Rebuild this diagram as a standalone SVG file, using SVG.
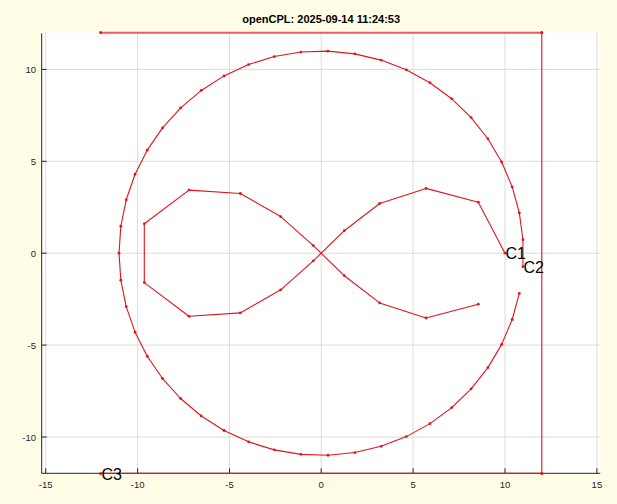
<svg xmlns="http://www.w3.org/2000/svg" width="617" height="504" viewBox="0 0 617 504">
<style>
.grid{stroke:#dcdcdc;stroke-width:1;fill:none}
.axis{stroke:#262626;stroke-width:1;fill:none}
.tl{font-family:"Liberation Sans",Arial,sans-serif;font-size:9.5px;fill:#262626}
.ttl{font-family:"Liberation Sans",Arial,sans-serif;font-size:11px;font-weight:bold;fill:#000}
.lab{font-family:"Liberation Sans",Arial,sans-serif;font-size:16px;fill:#000}
.cut{stroke:#e0141c;stroke-width:1.1;fill:none;stroke-linejoin:round}
.pt{fill:#e0141c}
</style>
<rect x="0" y="0" width="617" height="504" fill="#fffde6"/>
<rect x="41.7" y="32.6" width="558.6" height="441.2" fill="#ffffff"/>
<g id="grid">
<path class="grid" d="M45.7 32.6V473M137.6 32.6V473M229.5 32.6V473M321.2 32.6V473M413.1 32.6V473M505 32.6V473M596.9 32.6V473M42 437H600M42 345.1H600M42 253.2H600M42 161.3H600M42 69.4H600"/>
</g>
<g id="axes">
<path class="axis" d="M41.7 33.3V473.3H600.3"/>
<path class="axis" d="M45.7 473.3V468.3M137.6 473.3V468.3M229.5 473.3V468.3M321.2 473.3V468.3M413.1 473.3V468.3M505 473.3V468.3M596.9 473.3V468.3M41.7 437H46.7M41.7 345.1H46.7M41.7 253.2H46.7M41.7 161.3H46.7M41.7 69.4H46.7"/>
<g class="tl" text-anchor="middle">
<text x="45.7" y="488">-15</text>
<text x="137.6" y="488">-10</text>
<text x="229.5" y="488">-5</text>
<text x="321.2" y="488">0</text>
<text x="413.1" y="488">5</text>
<text x="505" y="488">10</text>
<text x="596.9" y="488">15</text>
</g>
<g class="tl" text-anchor="end">
<text x="36" y="440.5">-10</text>
<text x="36" y="348.6">-5</text>
<text x="36" y="256.7">0</text>
<text x="36" y="164.8">5</text>
<text x="36" y="72.9">10</text>
</g>
<text class="ttl" x="321.2" y="23" text-anchor="middle">openCPL: 2025-09-14 11:24:53</text>
</g>
<g id="connectors">
<g id="C3">
<path d="M100.6 32.8H541.8" stroke="#f05a5a" stroke-width="2" fill="none"/>
<path class="cut" d="M541.8 32.6V473.4H100.6"/>
<circle class="pt" cx="100.6" cy="32.6" r="1.5"/>
<circle class="pt" cx="541.8" cy="32.6" r="1.5"/>
<circle class="pt" cx="541.8" cy="473.4" r="1.5"/>
<circle class="pt" cx="100.6" cy="473.4" r="1.5"/>
<text class="lab" x="101.5" y="480">C3</text>
</g>
<g id="C2">
<polyline class="cut" points="522.93,266.70 522.93,239.70 519.33,212.93 512.19,186.88 501.65,162.01 487.89,138.78 471.15,117.59 451.73,98.81 429.97,82.77 406.29,69.79 381.10,60.10 354.83,53.84 327.96,51.13 300.96,52.03 274.33,56.53 248.54,64.53 224.03,75.90 201.26,90.44 180.61,107.90 162.55,127.88 147.24,150.17 135.06,174.27 126.20,199.79 120.82,226.25 119.02,253.20 120.82,280.15 126.20,306.61 135.06,332.13 147.24,356.23 162.55,378.52 180.61,398.50 201.26,415.96 224.03,430.50 248.54,441.87 274.33,449.87 300.96,454.37 327.96,455.27 354.83,452.56 381.10,446.30 406.29,436.61 429.97,423.63 451.73,407.59 471.15,388.81 487.89,367.62 501.65,344.39 512.19,319.52 519.33,293.47"/>
<g>
<circle class="pt" cx="522.93" cy="266.70" r="1.4"/><circle class="pt" cx="522.93" cy="239.70" r="1.4"/><circle class="pt" cx="519.33" cy="212.93" r="1.4"/><circle class="pt" cx="512.19" cy="186.88" r="1.4"/><circle class="pt" cx="501.65" cy="162.01" r="1.4"/><circle class="pt" cx="487.89" cy="138.78" r="1.4"/><circle class="pt" cx="471.15" cy="117.59" r="1.4"/><circle class="pt" cx="451.73" cy="98.81" r="1.4"/><circle class="pt" cx="429.97" cy="82.77" r="1.4"/><circle class="pt" cx="406.29" cy="69.79" r="1.4"/><circle class="pt" cx="381.10" cy="60.10" r="1.4"/><circle class="pt" cx="354.83" cy="53.84" r="1.4"/><circle class="pt" cx="327.96" cy="51.13" r="1.4"/><circle class="pt" cx="300.96" cy="52.03" r="1.4"/><circle class="pt" cx="274.33" cy="56.53" r="1.4"/><circle class="pt" cx="248.54" cy="64.53" r="1.4"/><circle class="pt" cx="224.03" cy="75.90" r="1.4"/><circle class="pt" cx="201.26" cy="90.44" r="1.4"/><circle class="pt" cx="180.61" cy="107.90" r="1.4"/><circle class="pt" cx="162.55" cy="127.88" r="1.4"/><circle class="pt" cx="147.24" cy="150.17" r="1.4"/><circle class="pt" cx="135.06" cy="174.27" r="1.4"/><circle class="pt" cx="126.20" cy="199.79" r="1.4"/><circle class="pt" cx="120.82" cy="226.25" r="1.4"/><circle class="pt" cx="119.02" cy="253.20" r="1.4"/><circle class="pt" cx="120.82" cy="280.15" r="1.4"/><circle class="pt" cx="126.20" cy="306.61" r="1.4"/><circle class="pt" cx="135.06" cy="332.13" r="1.4"/><circle class="pt" cx="147.24" cy="356.23" r="1.4"/><circle class="pt" cx="162.55" cy="378.52" r="1.4"/><circle class="pt" cx="180.61" cy="398.50" r="1.4"/><circle class="pt" cx="201.26" cy="415.96" r="1.4"/><circle class="pt" cx="224.03" cy="430.50" r="1.4"/><circle class="pt" cx="248.54" cy="441.87" r="1.4"/><circle class="pt" cx="274.33" cy="449.87" r="1.4"/><circle class="pt" cx="300.96" cy="454.37" r="1.4"/><circle class="pt" cx="327.96" cy="455.27" r="1.4"/><circle class="pt" cx="354.83" cy="452.56" r="1.4"/><circle class="pt" cx="381.10" cy="446.30" r="1.4"/><circle class="pt" cx="406.29" cy="436.61" r="1.4"/><circle class="pt" cx="429.97" cy="423.63" r="1.4"/><circle class="pt" cx="451.73" cy="407.59" r="1.4"/><circle class="pt" cx="471.15" cy="388.81" r="1.4"/><circle class="pt" cx="487.89" cy="367.62" r="1.4"/><circle class="pt" cx="501.65" cy="344.39" r="1.4"/><circle class="pt" cx="512.19" cy="319.52" r="1.4"/><circle class="pt" cx="519.33" cy="293.47" r="1.4"/>
</g>
<text class="lab" x="523.5" y="272.5">C2</text>
</g>
<g id="C1">
<polyline class="cut" points="505,253.2 478.3,202.2 426,188.4 379.7,203.5 344.3,230.7 313.3,260.8 280.7,289.8 240.3,312.9 189,316.3 144.3,282.6 144.3,223.8 189,190.1 240.3,193.5 280.7,216.6 313.3,245.6 344.3,275.7 379.7,302.9 426,318 478.3,304.2"/>
<g>
<circle class="pt" cx="505" cy="253.2" r="1.4"/><circle class="pt" cx="478.3" cy="202.2" r="1.4"/><circle class="pt" cx="426" cy="188.4" r="1.4"/><circle class="pt" cx="379.7" cy="203.5" r="1.4"/><circle class="pt" cx="344.3" cy="230.7" r="1.4"/><circle class="pt" cx="313.3" cy="260.8" r="1.4"/><circle class="pt" cx="280.7" cy="289.8" r="1.4"/><circle class="pt" cx="240.3" cy="312.9" r="1.4"/><circle class="pt" cx="189" cy="316.3" r="1.4"/><circle class="pt" cx="144.3" cy="282.6" r="1.4"/><circle class="pt" cx="144.3" cy="223.8" r="1.4"/><circle class="pt" cx="189" cy="190.1" r="1.4"/><circle class="pt" cx="240.3" cy="193.5" r="1.4"/><circle class="pt" cx="280.7" cy="216.6" r="1.4"/><circle class="pt" cx="313.3" cy="245.6" r="1.4"/><circle class="pt" cx="344.3" cy="275.7" r="1.4"/><circle class="pt" cx="379.7" cy="302.9" r="1.4"/><circle class="pt" cx="426" cy="318" r="1.4"/><circle class="pt" cx="478.3" cy="304.2" r="1.4"/>
</g>
<text class="lab" x="505.5" y="259">C1</text>
</g>
</g>
</svg>
